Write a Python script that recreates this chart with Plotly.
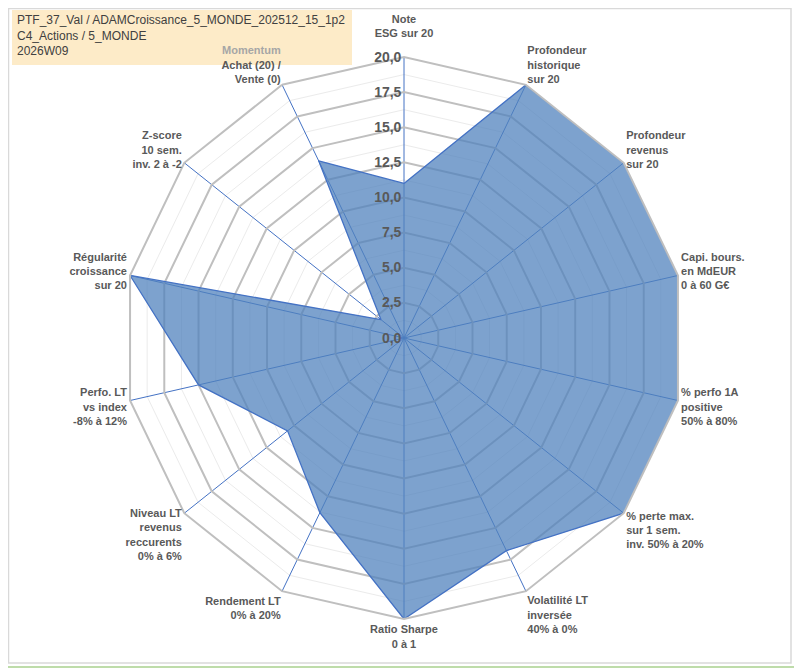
import plotly.graph_objects as go

# axes of the radar, clockwise from the top
categories = [
    "Note<br>ESG sur 20<br> ",
    "Profondeur<br>historique<br>sur 20",
    "Profondeur<br>revenus<br>sur 20",
    "Capi. bours.<br>en MdEUR<br>0 à 60 G€",
    "% perfo 1A<br>positive<br>50% à 80%",
    "% perte max.<br>sur 1 sem.<br>inv. 50% à 20%",
    "Volatilité LT<br>inversée<br>40% à 0%",
    "Ratio Sharpe<br>0 à 1",
    "Rendement LT<br>0% à 20%",
    "Niveau LT<br>revenus<br>reccurents<br>0% à 6%",
    "Perfo. LT<br>vs index<br>-8% à 12%",
    "Régularité<br>croissance<br>sur 20",
    "Z-score<br>10 sem.<br>inv. 2 à -2",
    "<span style='color:#A6A6A6'>Momentum</span><br>Achat (20) /<br>Vente (0)",
]
scores = [11.0, 20, 20, 20, 20, 20, 16.8, 20, 13.8, 10.6, 15.0, 20, 2.1, 14.0]

major_ticks = [0, 2.5, 5, 7.5, 10, 12.5, 15, 17.5, 20]
minor_ticks = [1.25, 3.75, 6.25, 8.75, 11.25, 13.75, 16.25, 18.75]

title_lines = [
    "PTF_37_Val / ADAMCroissance_5_MONDE_202512_15_1p2",
    "C4_Actions / 5_MONDE",
    "2026W09",
]

W, H = 802, 670
OFF = 8  # page body margin, screen positions below are converted with it


def px(x):
    return (x - OFF) / W


def py(y):
    return 1 - (y - OFF) / H


cx, cy, rad = 404, 338, 281
dom_x = [px(cx - rad), px(cx + rad)]
dom_y = [py(cy + rad), py(cy - rad)]

fig = go.Figure()

# light minor rings underneath
fig.add_trace(go.Scatterpolar(
    r=[0] * len(categories), theta=categories, mode="none",
    hoverinfo="skip", showlegend=False, subplot="polar",
))

fig.add_trace(go.Scatterpolar(
    r=scores + scores[:1],
    theta=categories + categories[:1],
    mode="lines",
    fill="toself",
    fillcolor="rgba(79,129,189,0.74)",
    line=dict(color="#4472C4", width=1.3),
    showlegend=False,
    subplot="polar2",
))

common_angular = dict(
    type="category", direction="clockwise", rotation=90,
    categoryorder="array", categoryarray=categories,
)

fig.update_layout(
    width=W, height=H,
    margin=dict(l=0, r=0, t=0, b=0),
    paper_bgcolor="white",
    separators=", ",
    font=dict(family="Liberation Sans, Arial, sans-serif", color="#595959"),
    polar=dict(
        domain=dict(x=dom_x, y=dom_y),
        gridshape="linear",
        bgcolor="white",
        radialaxis=dict(range=[0, 20], tickvals=minor_ticks, showticklabels=False,
                        showline=False, ticks="", gridcolor="#EBEBEB", gridwidth=1),
        angularaxis=dict(showticklabels=False, showgrid=False, showline=False,
                         ticks="", **common_angular),
    ),
    polar2=dict(
        domain=dict(x=dom_x, y=dom_y),
        gridshape="linear",
        bgcolor="rgba(0,0,0,0)",
        radialaxis=dict(
            range=[0, 20], tickvals=major_ticks, tickformat=".1f",
            angle=90, side="counterclockwise", tickangle=90,
            showline=False, ticks="",
            gridcolor="#BFBFBF", gridwidth=2,
            tickfont=dict(size=14, weight="bold", color="#595959"),
        ),
        angularaxis=dict(
            showline=True, linecolor="#BFBFBF", linewidth=2,
            showgrid=True, gridcolor="#4472C4", gridwidth=1,
            ticks="",
            tickfont=dict(size=11, weight="bold", color="#595959"),
            **common_angular,
        ),
    ),
)

# title box (shape below the chart so the axis labels sit over it)
fig.add_shape(type="rect", xref="paper", yref="paper",
              x0=px(12), x1=px(352), y0=py(65), y1=py(10),
              fillcolor="#FDEBC8", line=dict(width=0), layer="below")
fig.add_annotation(
    xref="paper", yref="paper", x=px(15), y=py(11),
    xanchor="left", yanchor="top", align="left",
    text="<br>".join(title_lines),
    showarrow=False,
    font=dict(family="Liberation Sans, Arial, sans-serif", size=12, color="#404040"),
)

# chart frame
fig.add_shape(type="rect", xref="paper", yref="paper",
              x0=px(8.5), x1=px(791), y0=py(663), y1=py(8.5),
              line=dict(color="#D9D9D9", width=1.5), layer="below")
fig.add_shape(type="line", xref="paper", yref="paper",
              x0=px(800.5), x1=px(800.5), y0=py(670), y1=py(8),
              line=dict(color="#808080", width=2), layer="below")
fig.add_shape(type="line", xref="paper", yref="paper",
              x0=px(8), x1=px(800), y0=py(667), y1=py(667),
              line=dict(color="#A9D18E", width=1.5), layer="below")

fig.write_html("out.html")
